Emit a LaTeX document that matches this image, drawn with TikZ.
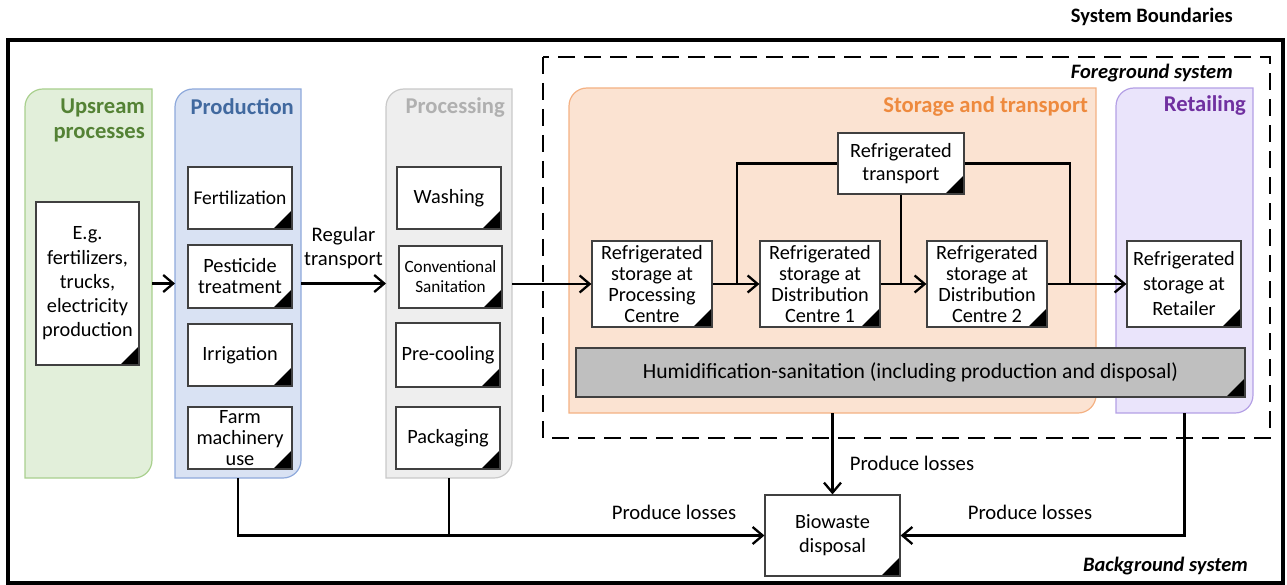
\documentclass[tikz,border=0pt]{standalone}
\usepackage{fontspec}
\setmainfont{Carlito}
\usetikzlibrary{arrows.meta,calc}
\definecolor{gfill}{HTML}{E2EFDA}
\definecolor{gline}{HTML}{A9D08E}
\definecolor{gtext}{HTML}{548235}
\definecolor{bfill}{HTML}{D9E2F3}
\definecolor{bline}{HTML}{8EA9DB}
\definecolor{btext}{HTML}{41699F}
\definecolor{pfill}{HTML}{EEEEEE}
\definecolor{pline}{HTML}{C9C9C9}
\definecolor{ptext}{HTML}{B0B0B0}
\definecolor{ofill}{HTML}{FBE3D2}
\definecolor{oline}{HTML}{F4B183}
\definecolor{otext}{HTML}{EE8A3E}
\definecolor{vfill}{HTML}{EAE4FB}
\definecolor{vline}{HTML}{B4A0E5}
\definecolor{vtext}{HTML}{7030A0}
\definecolor{hfill}{HTML}{BFBFBF}
\definecolor{boxline}{HTML}{404040}
\newcommand\contbox[6]{%
  \path[#6] (#2,#5) -- (#2,#3+18) .. controls (#2,#3+8) and (#2+8,#3) .. (#2+18,#3)
     -- (#4,#3) -- (#4,#5-18) .. controls (#4,#5-8) and (#4-8,#5) .. (#4-18,#5) -- cycle;
  \node[inner sep=0pt, outer sep=0pt, minimum width=#4-#2, minimum height=#5-#3] (#1) at ({(#2+#4)/2},{(#3+#5)/2}) {};
}
\begin{document}
\begin{tikzpicture}[x=1pt,y=-1pt,
  inbox/.style={draw=boxline, fill=white, line width=1.2pt, inner sep=1pt, align=center,
    font=\fontsize{20.3}{21}\selectfont,
    path picture={\fill[black] (path picture bounding box.south east) -- ++(-19pt,0pt) -- ++(19pt,19pt) -- cycle;}},
  ttl/.style={font=\fontsize{22.6}{25}\selectfont\bfseries, align=right, anchor=east, inner sep=0pt},
  lbl/.style={font=\fontsize{20.7}{24}\selectfont, align=center, inner sep=0pt},
  conn/.style={line width=2.3pt},
  arr/.style={line width=2.3pt, -{Straight Barb[length=10pt,width=17pt,line width=2.3pt]}},
  ]
\useasboundingbox (0,0) rectangle (1287,585);
% outer frame
\draw[line width=4pt] (8,40) rectangle (1283,583);
\node[font=\fontsize{20.5}{22}\selectfont\bfseries, anchor=east, inner sep=0pt] (sb) at (1233,17) {System Boundaries};
% foreground dashed box
\draw[line width=2pt, dash pattern=on 17pt off 9pt] (543,57) rectangle (1270,438);
\node[font=\fontsize{20.5}{22}\selectfont\bfseries\itshape, anchor=east, inner sep=0pt] (fg) at (1233,73) {Foreground system};
\node[font=\fontsize{20.5}{22}\selectfont\bfseries\itshape, anchor=east, inner sep=0pt] (bg) at (1248,566) {Background system};
% containers
\contbox{up}{25}{89}{152}{478}{fill=gfill, draw=gline, line width=1.2pt}
\contbox{prod}{175}{89}{301}{478}{fill=bfill, draw=bline, line width=1.2pt}
\contbox{proc}{386}{89}{512}{478}{fill=pfill, draw=pline, line width=1.2pt}
\contbox{stor}{569}{88}{1096}{413}{fill=ofill, draw=oline, line width=1.2pt}
\contbox{ret}{1116}{88}{1253}{413}{fill=vfill, draw=vline, line width=1.2pt}
% titles
\node[ttl, text=gtext] (tup) at (145,120.5) {Upsream\\processes};
\node[ttl, text=btext] (tprod) at (294,107) {Production};
\node[ttl, text=ptext] (tproc) at (505,107) {Processing};
\node[ttl, text=otext] (tstor) at (1088,106) {Storage and transport};
\node[ttl, text=vtext] (tret) at (1246,105) {Retailing};
% inner boxes
\node[inbox, minimum width=103, minimum height=163, font=\fontsize{20.3}{24.3}\selectfont] (eg) at (87.5,283.5) {E.g.\\fertilizers,\\trucks,\\electricity\\production};
\node[inbox, minimum width=104, minimum height=62, font=\fontsize{19.5}{21}\selectfont] (fert) at (240,198) {Fertilization};
\node[inbox, minimum width=104, minimum height=63] (pest) at (240,276.5) {Pesticide\\treatment};
\node[inbox, minimum width=104, minimum height=62] (irr) at (240,355) {Irrigation};
\node[inbox, minimum width=104, minimum height=62] (farm) at (240,438) {Farm\\machinery\\use};
\node[inbox, minimum width=104, minimum height=62] (wash) at (449,198) {Washing};
\node[inbox, minimum width=103, minimum height=62, font=\fontsize{17.2}{20}\selectfont] (conv) at (450.5,277) {Conventional\\Sanitation};
\node[inbox, minimum width=104, minimum height=64] (prec) at (448,355) {Pre-cooling};
\node[inbox, minimum width=104, minimum height=62] (pack) at (448,438) {Packaging};
\node[inbox, minimum width=120, minimum height=86] (rs1) at (652,284) {Refrigerated\\storage at\\Processing\\Centre};
\node[inbox, minimum width=120, minimum height=86] (rs2) at (820,284) {Refrigerated\\storage at\\Distribution\\Centre 1};
\node[inbox, minimum width=120, minimum height=86] (rs3) at (987,284) {Refrigerated\\storage at\\Distribution\\Centre 2};
\node[inbox, minimum width=126, minimum height=61, font=\fontsize{20.3}{23}\selectfont] (tr) at (901,163.5) {Refrigerated\\transport};
\node[inbox, minimum width=114, minimum height=86, font=\fontsize{20.3}{25}\selectfont] (rr) at (1184,284) {Refrigerated\\storage at\\Retailer};
\node[inbox, fill=hfill, minimum width=669, minimum height=49, font=\fontsize{21.6}{24}\selectfont] (hum) at (910.5,372.5) {Humidification-sanitation (including production and disposal)};
\node[inbox, minimum width=135, minimum height=81, font=\fontsize{20.3}{24}\selectfont] (bio) at (832.5,535.5) {Biowaste\\disposal};
% main flow
\draw[arr] (up.east |- eg) -- (prod.west |- eg);
\draw[arr] (prod.east |- eg) -- (proc.west |- eg) node[lbl, midway, above=14pt] (rt) {Regular\\transport};
\draw[arr] (proc.east |- rs1) -- (rs1.west);
\draw[arr] (rs1) -- (rs2);
\draw[arr] (rs2) -- (rs3);
\draw[arr] (rs3) -- (rr);
% refrigerated transport links
\coordinate (j1) at (737,284);
\coordinate (j3) at (1070,284);
\draw[conn] (j1) |- (tr.west);
\draw[conn] (tr.east) -| (j3);
\draw[conn] (tr.south) -- (tr.south |- rs2);
% losses
\draw[arr] (prod.south) |- (bio.west);
\draw[conn] (proc.south) -- (proc.south |- bio.west);
\draw[arr] (stor.south) -- (bio.north);
\draw[arr] (ret.south) |- (bio.east);
\node[lbl] (pl1) at (674,512) {Produce losses};
\node[lbl] (pl2) at (912,463) {Produce losses};
\node[lbl] (pl3) at (1030,512) {Produce losses};
\end{tikzpicture}
\end{document}
